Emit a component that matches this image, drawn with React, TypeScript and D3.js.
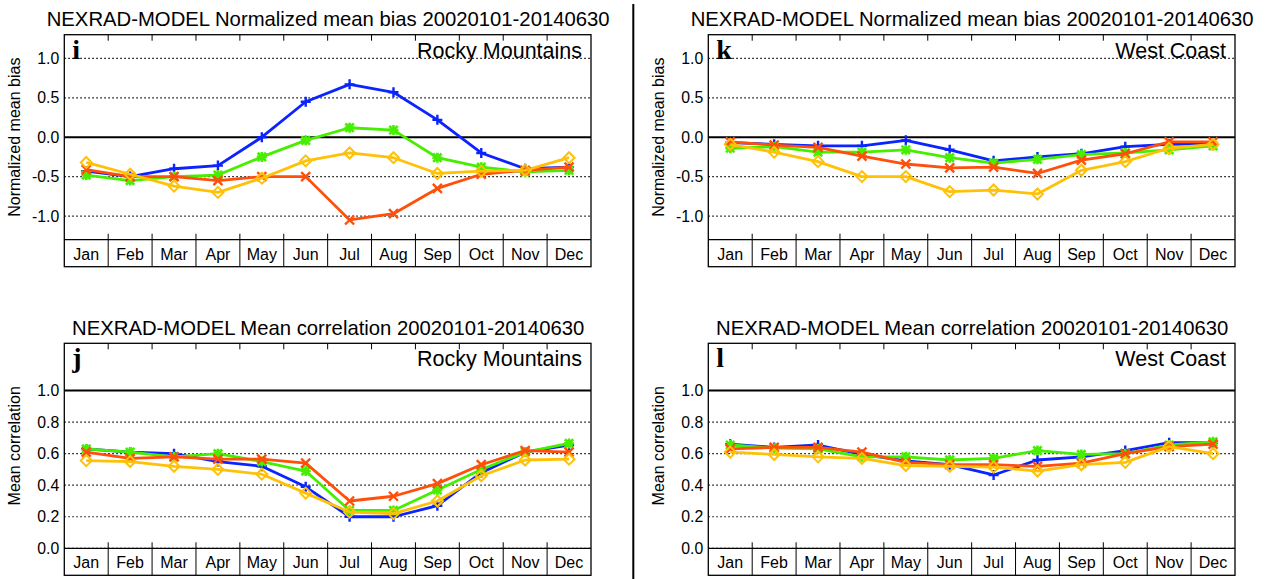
import React from "react";
import * as d3 from "d3";

const months = ["Jan", "Feb", "Mar", "Apr", "May", "Jun", "Jul", "Aug", "Sep", "Oct", "Nov", "Dec"];

const biasTicks = [-1.0, -0.5, 0.0, 0.5, 1.0];
const corrTicks = [0.0, 0.2, 0.4, 0.6, 0.8, 1.0];

// Rocky Mountains, normalized mean bias
const rockyBiasBlue = [-0.43, -0.5, -0.4, -0.36, 0.0, 0.45, 0.67, 0.57, 0.22, -0.2, -0.4, -0.38];
const rockyBiasGreen = [-0.48, -0.55, -0.5, -0.48, -0.25, -0.04, 0.12, 0.09, -0.26, -0.38, -0.44, -0.42];
const rockyBiasRed = [-0.41, -0.5, -0.5, -0.55, -0.5, -0.5, -1.05, -0.97, -0.65, -0.47, -0.42, -0.38];
const rockyBiasYellow = [-0.32, -0.47, -0.62, -0.7, -0.52, -0.3, -0.2, -0.26, -0.46, -0.43, -0.42, -0.26];

// West Coast, normalized mean bias
const westBiasBlue = [-0.07, -0.09, -0.11, -0.11, -0.04, -0.16, -0.3, -0.25, -0.21, -0.12, -0.09, -0.08];
const westBiasGreen = [-0.14, -0.12, -0.19, -0.19, -0.16, -0.26, -0.33, -0.28, -0.22, -0.2, -0.16, -0.11];
const westBiasRed = [-0.06, -0.1, -0.13, -0.24, -0.34, -0.39, -0.38, -0.46, -0.29, -0.21, -0.06, -0.06];
const westBiasYellow = [-0.09, -0.19, -0.31, -0.5, -0.5, -0.69, -0.67, -0.72, -0.42, -0.31, -0.14, -0.09];

// Rocky Mountains, mean correlation
const rockyCorrBlue = [0.63, 0.61, 0.6, 0.55, 0.52, 0.39, 0.2, 0.2, 0.27, 0.48, 0.61, 0.655];
const rockyCorrGreen = [0.63, 0.61, 0.58, 0.6, 0.55, 0.49, 0.24, 0.24, 0.37, 0.5, 0.61, 0.665];
const rockyCorrRed = [0.61, 0.57, 0.58, 0.565, 0.565, 0.54, 0.3, 0.33, 0.41, 0.53, 0.62, 0.61];
const rockyCorrYellow = [0.556, 0.55, 0.52, 0.5, 0.47, 0.35, 0.23, 0.22, 0.3, 0.46, 0.56, 0.565];

// West Coast, mean correlation
const westCorrBlue = [0.66, 0.64, 0.655, 0.595, 0.555, 0.53, 0.465, 0.56, 0.58, 0.62, 0.67, 0.67];
const westCorrGreen = [0.655, 0.635, 0.63, 0.58, 0.58, 0.56, 0.57, 0.62, 0.595, 0.6, 0.655, 0.675];
const westCorrRed = [0.63, 0.64, 0.64, 0.61, 0.545, 0.53, 0.53, 0.52, 0.54, 0.6, 0.645, 0.66];
const westCorrYellow = [0.61, 0.595, 0.58, 0.57, 0.525, 0.52, 0.515, 0.49, 0.53, 0.545, 0.645, 0.6];

const BLUE = "#0a23ff";
const GREEN = "#46ee00";
const RED = "#ff4f0a";
const YELLOW = "#ffc107";

const SANS = "'Liberation Sans', Arial, sans-serif";
const PLOT_W = 526.7;
const PLOT_H = 205;
const STRIP_H = 27;

const fmt = (v: number) => d3.format(".1f")(v).replace("\u2212", "-");

type Marker = "plus" | "star" | "cross" | "diamond";

const MarkerShape = ({ kind, cx, cy, color }: { kind: Marker; cx: number; cy: number; color: string }) => {
  const s = 5;
  if (kind === "plus")
    return <path d={`M${cx - s},${cy}H${cx + s}M${cx},${cy - s}V${cy + s}`} stroke={color} strokeWidth={2.4} />;
  if (kind === "cross")
    return (
      <path
        d={`M${cx - 4.5},${cy - 4.5}L${cx + 4.5},${cy + 4.5}M${cx - 4.5},${cy + 4.5}L${cx + 4.5},${cy - 4.5}`}
        stroke={color}
        strokeWidth={2.4}
      />
    );
  if (kind === "star")
    return (
      <path
        d={`M${cx - s},${cy}H${cx + s}M${cx},${cy - s}V${cy + s}M${cx - 4.2},${cy - 4.2}L${cx + 4.2},${cy + 4.2}M${cx - 4.2},${cy + 4.2}L${cx + 4.2},${cy - 4.2}`}
        stroke={color}
        strokeWidth={2.6}
      />
    );
  const d = 5.5;
  return (
    <path
      d={`M${cx},${cy - d}L${cx + d},${cy}L${cx},${cy + d}L${cx - d},${cy}Z`}
      stroke={color}
      strokeWidth={2}
      fill="none"
    />
  );
};

type PanelProps = {
  left: number;
  top: number;
  title: string;
  ylabel: string;
  letter: string;
  region: string;
  domain: [number, number];
  ticks: number[];
  solidAt: number;
  series: { values: number[]; color: string; marker: Marker }[];
};

const Panel = ({ left, top, title, ylabel, letter, region, domain, ticks, solidAt, series }: PanelProps) => {
  const right = left + PLOT_W;
  const bottom = top + PLOT_H;
  const x = d3.scaleBand<string>().domain(months).range([left, right]);
  const y = d3.scaleLinear().domain(domain).range([bottom, top]);
  const cx = (i: number) => (x(months[i]) as number) + x.bandwidth() / 2;
  const line = d3
    .line<number>()
    .x((_, i) => cx(i))
    .y((d) => y(d));
  const bounds = months.slice(1).map((m) => x(m) as number);

  return (
    <g>
      <text x={(left + right) / 2 + 0.5} y={top - 8.7} textAnchor="middle" fontFamily={SANS} fontSize={20.3}>
        {title}
      </text>
      {/* grid */}
      {ticks.map((t) =>
        t === solidAt ? null : (
          <line key={t} x1={left} x2={right} y1={y(t)} y2={y(t)} stroke="#000" strokeWidth={1.2} strokeDasharray="1.5,2.5" />
        )
      )}
      <line x1={left} x2={right} y1={y(solidAt)} y2={y(solidAt)} stroke="#000" strokeWidth={2} />
      {/* y tick labels */}
      {ticks.map((t) => (
        <text key={t} x={left - 5} y={y(t)} dy="0.36em" textAnchor="end" fontFamily={SANS} fontSize={15.8}>
          {fmt(t)}
        </text>
      ))}
      <text
        transform={`translate(${left - 50},${(top + bottom) / 2}) rotate(-90)`}
        dy="0.36em"
        textAnchor="middle"
        fontFamily={SANS}
        fontSize={16}
      >
        {ylabel}
      </text>
      {/* box and month strip */}
      <rect x={left} y={top} width={PLOT_W} height={PLOT_H + STRIP_H} fill="none" stroke="#000" strokeWidth={1.3} />
      <line x1={left} x2={right} y1={bottom} y2={bottom} stroke="#000" strokeWidth={1.3} />
      {bounds.map((b, i) => (
        <g key={i}>
          <line x1={b} x2={b} y1={top} y2={top + 6} stroke="#000" strokeWidth={1} />
          <line x1={b} x2={b} y1={bottom - 6} y2={bottom + STRIP_H} stroke="#000" strokeWidth={1} />
        </g>
      ))}
      {months.map((m, i) => (
        <text key={m} x={cx(i)} y={bottom + STRIP_H - 7} textAnchor="middle" fontFamily={SANS} fontSize={16}>
          {m}
        </text>
      ))}
      <text x={left + 8} y={top + 24} fontFamily="'Liberation Serif', 'Times New Roman', serif" fontWeight="bold" fontSize={28}>
        {letter}
      </text>
      <text x={right - 9} y={top + 23} textAnchor="end" fontFamily={SANS} fontSize={21.5}>
        {region}
      </text>
      {/* series */}
      {series.map((s, k) => (
        <g key={k}>
          <path d={line(s.values) ?? ""} fill="none" stroke={s.color} strokeWidth={2.8} strokeLinejoin="round" />
          {s.values.map((v, i) => (
            <MarkerShape key={i} kind={s.marker} cx={cx(i)} cy={y(v)} color={s.color} />
          ))}
        </g>
      ))}
    </g>
  );
};

const build = (b: number[], g: number[], r: number[], yl: number[]) => [
  { values: b, color: BLUE, marker: "plus" as Marker },
  { values: g, color: GREEN, marker: "star" as Marker },
  { values: r, color: RED, marker: "cross" as Marker },
  { values: yl, color: YELLOW, marker: "diamond" as Marker },
];

export default function App() {
  const biasTitle = "NEXRAD-MODEL Normalized mean bias 20020101-20140630";
  const corrTitle = "NEXRAD-MODEL Mean correlation 20020101-20140630";
  return (
    <svg width={1267} height={579} style={{ position: "absolute", left: 0, top: 0, background: "#fff" }}>
      <rect width={1267} height={579} fill="#fff" />
      <Panel
        left={64.3}
        top={34.7}
        title={biasTitle}
        ylabel="Normalized mean bias"
        letter="i"
        region="Rocky Mountains"
        domain={[-1.3, 1.3]}
        ticks={biasTicks}
        solidAt={0}
        series={build(rockyBiasBlue, rockyBiasGreen, rockyBiasRed, rockyBiasYellow)}
      />
      <Panel
        left={708.3}
        top={34.7}
        title={biasTitle}
        ylabel="Normalized mean bias"
        letter="k"
        region="West Coast"
        domain={[-1.3, 1.3]}
        ticks={biasTicks}
        solidAt={0}
        series={build(westBiasBlue, westBiasGreen, westBiasRed, westBiasYellow)}
      />
      <Panel
        left={64.3}
        top={343.3}
        title={corrTitle}
        ylabel="Mean correlation"
        letter="j"
        region="Rocky Mountains"
        domain={[0, 1.3]}
        ticks={corrTicks}
        solidAt={1}
        series={build(rockyCorrBlue, rockyCorrGreen, rockyCorrRed, rockyCorrYellow)}
      />
      <Panel
        left={708.3}
        top={343.3}
        title={corrTitle}
        ylabel="Mean correlation"
        letter="l"
        region="West Coast"
        domain={[0, 1.3]}
        ticks={corrTicks}
        solidAt={1}
        series={build(westCorrBlue, westCorrGreen, westCorrRed, westCorrYellow)}
      />
      <line x1={633.3} x2={633.3} y1={4} y2={579} stroke="#000" strokeWidth={2} />
    </svg>
  );
}
